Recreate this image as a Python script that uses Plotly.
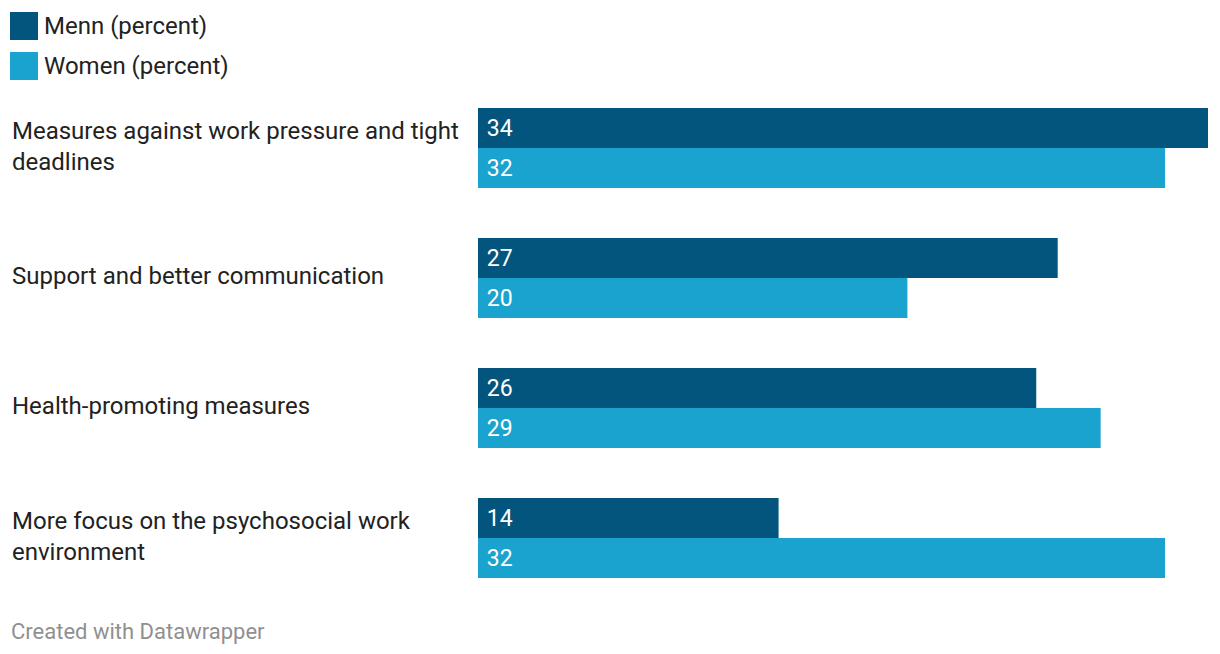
import plotly.graph_objects as go

categories = [
    "Measures against work pressure and tight<br>deadlines",
    "Support and better communication",
    "Health-promoting measures",
    "More focus on the psychosocial work<br>environment",
]
cat_keys = ["c1", "c2", "c3", "c4"]
men = [34, 27, 26, 14]
women = [32, 20, 29, 32]
series_names = ["Menn (percent)", "Women (percent)"]
colors = ["#03557d", "#1ba3d0"]

W, H = 1220, 654
L, R, T, B = 478, 12, 83, 51
PW, PH = W - L - R, H - T - B

def px_x(px):
    return (px - L) / PW

def px_y(py):
    return (H - B - py) / PH

FONT = "Roboto"

fig = go.Figure()
for name, vals, col in zip(series_names, [men, women], colors):
    fig.add_trace(go.Bar(
        y=cat_keys, x=vals, orientation="h", name=name,
        marker=dict(color=col, line=dict(width=0)),
        text=vals, texttemplate=" %{x}",
        textposition="inside", insidetextanchor="start", textangle=0,
        insidetextfont=dict(color="white", size=23, family=FONT),
        hoverinfo="skip",
    ))

annotations = []
for key, lab in zip(cat_keys, categories):
    annotations.append(dict(
        xref="paper", yref="y", x=px_x(10), y=key, text=lab,
        xanchor="left", yanchor="middle", align="left", showarrow=False,
        yshift=2,
        font=dict(size=24, color="#222222", family=FONT),
    ))

shapes = []
for i, (name, col) in enumerate(zip(series_names, colors)):
    top = 12 + 40 * i
    shapes.append(dict(
        type="rect", xref="paper", yref="paper",
        x0=px_x(10), x1=px_x(38), y0=px_y(top + 28), y1=px_y(top),
        fillcolor=col, line=dict(width=0),
    ))
    annotations.append(dict(
        xref="paper", yref="paper", x=px_x(42), y=px_y(top + 14),
        text=name, xanchor="left", yanchor="middle", showarrow=False,
        font=dict(size=24, color="#222222", family=FONT),
    ))

annotations.append(dict(
    xref="paper", yref="paper", x=px_x(9), y=px_y(631),
    text="Created with Datawrapper", xanchor="left", yanchor="middle",
    showarrow=False, font=dict(size=22, color="#909090", family=FONT),
))

fig.update_layout(
    width=W, height=H,
    margin=dict(l=L, r=R, t=T, b=B),
    paper_bgcolor="white", plot_bgcolor="white",
    barmode="group", bargap=50 / 130, bargroupgap=0,
    showlegend=False,
    xaxis=dict(range=[0, 34], visible=False, fixedrange=True),
    yaxis=dict(range=[3.5, -0.5], visible=False, type="category",
               categoryorder="array", categoryarray=cat_keys, fixedrange=True),
    annotations=annotations, shapes=shapes,
    font=dict(family=FONT),
    uniformtext=dict(minsize=20, mode="show"),
)

fig.write_html("out.html", config={"displayModeBar": False},
               post_script="document.body.style.margin='0';document.body.style.overflow='hidden';")
